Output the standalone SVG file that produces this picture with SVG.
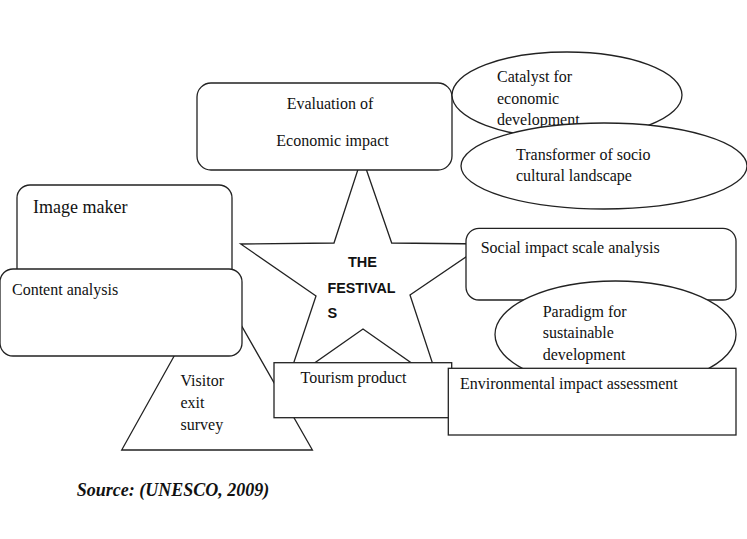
<svg xmlns="http://www.w3.org/2000/svg" width="747" height="539" viewBox="0 0 747 539">
<style>
.s{fill:#fff;stroke:#222;stroke-width:1.3}
.t{font-family:"Liberation Serif","Times New Roman",serif;font-size:16px;fill:#111}
.b{font-family:"Liberation Sans",Arial,sans-serif;font-weight:bold;font-size:14.5px;fill:#111}
.src{font-family:"Liberation Serif","Times New Roman",serif;font-weight:bold;font-style:italic;font-size:18px;fill:#111}
</style>
<rect width="747" height="539" fill="#fff"/>
<g id="festivals">
<polygon class="s" points="362,157 391.7,243 485,244 410,295 438.7,382 363,329 287.3,382 316,296 240.7,244 334,243"/>
<text class="b" x="348" y="266.5">THE</text>
<text class="b" x="327.5" y="292.5" textLength="68" lengthAdjust="spacingAndGlyphs">FESTIVAL</text>
<text class="b" x="327.5" y="317.5">S</text>
</g>
<g id="visitor-exit-survey">
<polygon class="s" points="216,281 312.4,450 121.7,450"/>
<text class="t" x="180.5" y="385.5">Visitor</text>
<text class="t" x="180.5" y="407.5">exit</text>
<text class="t" x="180.5" y="430">survey</text>
</g>
<g id="image-maker">
<rect class="s" x="17" y="185" width="215" height="125" rx="13"/>
<text class="t" x="33" y="213" style="font-size:18px">Image maker</text>
</g>
<g id="content-analysis">
<rect class="s" x="0" y="269" width="242" height="87" rx="13"/>
<text class="t" x="12" y="295">Content analysis</text>
</g>
<g id="tourism-product">
<rect class="s" x="274" y="362.7" width="177.7" height="55"/>
<text class="t" x="300.5" y="383.3">Tourism product</text>
</g>
<g id="evaluation">
<rect class="s" x="197" y="83" width="255" height="87" rx="14"/>
<text class="t" x="330" y="109" text-anchor="middle">Evaluation of</text>
<text class="t" x="332.5" y="146" text-anchor="middle">Economic impact</text>
</g>
<g id="catalyst">
<ellipse class="s" cx="567" cy="95" rx="115" ry="43"/>
<text class="t" x="497" y="82">Catalyst for</text>
<text class="t" x="497" y="103.5">economic</text>
<text class="t" x="497" y="124.5">development</text>
</g>
<g id="transformer">
<ellipse class="s" cx="604" cy="166" rx="143" ry="43"/>
<text class="t" x="516" y="159.5">Transformer of socio</text>
<text class="t" x="516" y="180.5">cultural landscape</text>
</g>
<g id="social-impact">
<rect class="s" x="466" y="228.3" width="270" height="71.7" rx="13"/>
<text class="t" x="480.7" y="253">Social impact scale analysis</text>
</g>
<g id="paradigm">
<ellipse class="s" cx="615.5" cy="334.5" rx="120.5" ry="53.5"/>
<text class="t" x="542.7" y="316.7">Paradigm for</text>
<text class="t" x="542.7" y="338.3">sustainable</text>
<text class="t" x="542.7" y="359.5">development</text>
</g>
<g id="environmental">
<rect class="s" x="448.3" y="368.3" width="287.7" height="66.7"/>
<text class="t" x="460" y="389.3">Environmental impact assessment</text>
</g>
<g id="connectors"></g>
<text class="src" x="76.7" y="496">Source: (UNESCO, 2009)</text>
</svg>
